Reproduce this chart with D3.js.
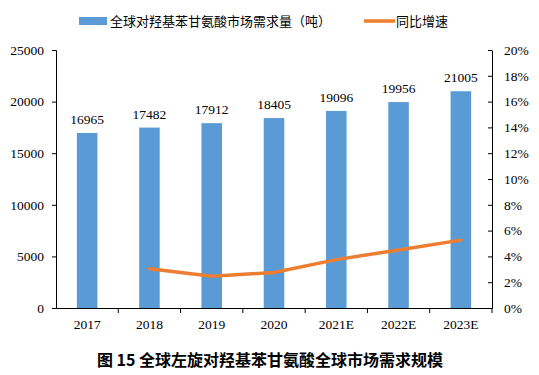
<!DOCTYPE html>
<meta charset="utf-8">
<style>
body { margin: 0; background: #fff; }
svg text { font-family: "Liberation Serif", "Times New Roman", serif; fill: #000; }
.cjk { font-family: "Noto Sans CJK SC", sans-serif; }
.axis path, .axis line { stroke: #000; stroke-width: 1; }
</style>
<svg width="539" height="375" id="chart"></svg>
<script src="https://cdn.jsdelivr.net/npm/d3@7"></script>
<script>

var years = ["2017", "2018", "2019", "2020", "2021E", "2022E", "2023E"];
var demand = [16965, 17482, 17912, 18405, 19096, 19956, 21005];
var growth = [null, 3.05, 2.46, 2.75, 3.75, 4.50, 5.26];
var leftTicks = [0, 5000, 10000, 15000, 20000, 25000];
var rightTicks = [0, 2, 4, 6, 8, 10, 12, 14, 16, 18, 20];

var svg = d3.select("#chart");
var plotLeft = 56, plotRight = 492, plotTop = 50, plotBottom = 308;
var fs = "13.5px";

var x = d3.scaleBand().domain(years).range([plotLeft, plotRight]).paddingInner(0.67).paddingOuter(0.335);
var xb = d3.scaleBand().domain(years).range([plotLeft, plotRight]);
var y = d3.scaleLinear().domain([0, 25000]).range([plotBottom, plotTop]);
var y2 = d3.scaleLinear().domain([0, 20]).range([plotBottom, plotTop]);

// bars
svg.append("g").selectAll("rect")
  .data(demand)
  .enter().append("rect")
    .attr("x", function(d, i) { return x(years[i]); })
    .attr("width", x.bandwidth())
    .attr("y", function(d) { return y(d); })
    .attr("height", function(d) { return plotBottom - y(d); })
    .attr("fill", "#5B9BD5");

// value labels
svg.append("g").selectAll("text")
  .data(demand)
  .enter().append("text")
    .attr("x", function(d, i) { return x(years[i]) + x.bandwidth() / 2; })
    .attr("y", function(d) { return y(d) - 9; })
    .attr("text-anchor", "middle")
    .style("font-size", fs)
    .text(function(d) { return d; });

// left axis
var gl = svg.append("g").attr("class", "axis")
  .attr("transform", "translate(" + plotLeft + ",0)")
  .call(d3.axisLeft(y).tickValues(leftTicks).tickSize(4).tickPadding(8).tickFormat(d3.format("d")));
gl.selectAll("text").style("font-size", fs);

// right axis
var gr = svg.append("g").attr("class", "axis")
  .attr("transform", "translate(" + plotRight + ",0)")
  .call(d3.axisRight(y2).tickValues(rightTicks).tickSize(0).tickPadding(12)
    .tickFormat(function(d) { return d + "%"; }));
gr.selectAll(".tick line").attr("x2", -4);
gr.selectAll("text").style("font-size", fs);

// bottom axis
var gb = svg.append("g").attr("class", "axis")
  .attr("transform", "translate(0," + plotBottom + ")")
  .call(d3.axisBottom(x).tickSizeOuter(0).tickSize(0).tickPadding(11));
gb.selectAll("text").style("font-size", fs);
gb.append("g").selectAll("line")
  .data(years)
  .enter().append("line")
    .attr("x1", function(d) { return xb(d) + xb.bandwidth(); })
    .attr("x2", function(d) { return xb(d) + xb.bandwidth(); })
    .attr("y1", 0).attr("y2", 5)
    .attr("stroke", "#000");

// growth line
var line = d3.line()
  .defined(function(d) { return d != null; })
  .x(function(d, i) { return x(years[i]) + x.bandwidth() / 2; })
  .y(function(d) { return y2(d); });
svg.append("path")
  .datum(growth)
  .attr("d", line)
  .attr("fill", "none")
  .attr("stroke", "#ED7D31")
  .attr("stroke-width", 3.5)
  .attr("stroke-linecap", "round");

// legend
svg.append("rect").attr("x", 79).attr("y", 17).attr("width", 28).attr("height", 8).attr("fill", "#5B9BD5");
svg.append("text").attr("class", "cjk").attr("x", 110).attr("y", 26)
  .style("font-size", "13px").text("全球对羟基苯甘氨酸市场需求量（吨）");
svg.append("line").attr("x1", 364).attr("x2", 395).attr("y1", 21).attr("y2", 21)
  .attr("stroke", "#ED7D31").attr("stroke-width", 3.5);
svg.append("text").attr("class", "cjk").attr("x", 396).attr("y", 26)
  .style("font-size", "13px").text("同比增速");

// title
svg.append("text").attr("class", "cjk").attr("x", 270).attr("y", 366)
  .attr("text-anchor", "middle")
  .style("font-size", "16px").style("font-weight", "bold")
  .text("图 15 全球左旋对羟基苯甘氨酸全球市场需求规模");

</script>
